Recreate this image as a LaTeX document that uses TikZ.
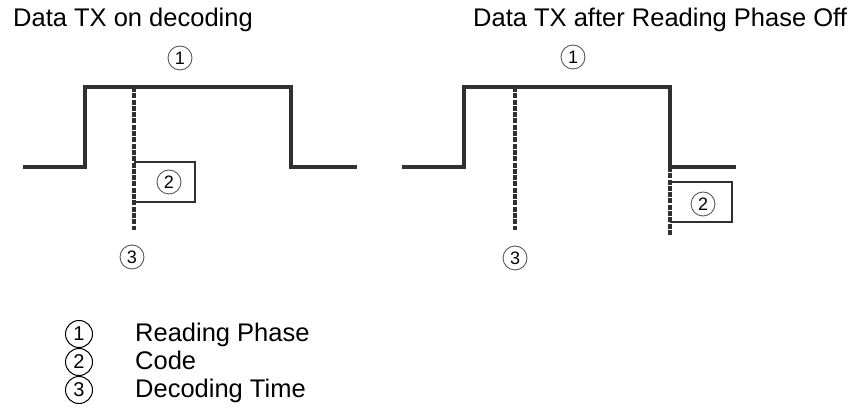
\documentclass[tikz,border=0pt]{standalone}
\usepackage{fontspec}
\setmainfont{Liberation Sans}
\definecolor{sigcol}{HTML}{303030}
\begin{document}
\begin{tikzpicture}[x=1pt,y=-1pt,
  sig/.style={line width=3.3pt, draw=sigcol, line join=miter},
  boxline/.style={line width=2.8pt, draw=sigcol, line join=miter},
  dashline/.style={line width=3.3pt, draw=sigcol, dash pattern=on 5pt off 1.3pt},
  num/.style={circle, draw=black!65, line width=0.9pt, minimum size=24pt, inner sep=0pt, font=\fontsize{18}{18}\selectfont},
  lnum/.style={circle, draw=black, line width=1pt, minimum size=27pt, inner sep=0pt, font=\fontsize{20}{20}\selectfont},
  ttl/.style={anchor=base west, inner sep=0pt, font=\fontsize{25.5}{30}\selectfont},
]
\useasboundingbox (0,0) rectangle (862,411);
% titles
\node[ttl] (t1) at (13,27) {Data TX on decoding};
\node[ttl] (t2) at (473,27) {Data TX after Reading Phase Off};
% left diagram
\coordinate (l0) at (23,167);
\coordinate (l1) at (85,167);
\coordinate (l2) at (85,87);
\coordinate (l3) at (291,87);
\coordinate (l4) at (291,167);
\coordinate (l5) at (357,167);
\draw[sig] (l0) -- (l1) -- (l2) -- (l3) -- (l4) -- (l5);
\coordinate (ld0) at (134,87);
\coordinate (ld1) at (134,230);
\draw[dashline] (ld0) -- (ld1);
\coordinate (lb0) at (134,162);
\coordinate (lb1) at (195,162);
\coordinate (lb2) at (195,202);
\coordinate (lb3) at (134,202);
\draw[boxline] (lb0) -- (lb1) -- (lb2) -- (lb3);
\node[num] (lc1) at (180,58) {1};
\node[num] (lc2) at (169,182) {2};
\node[num] (lc3) at (132,257) {3};
% right diagram
\coordinate (r0) at (402,167);
\coordinate (r1) at (464,167);
\coordinate (r2) at (464,87);
\coordinate (r3) at (670,87);
\coordinate (r4) at (670,167);
\coordinate (r5) at (736,167);
\draw[sig] (r0) -- (r1) -- (r2) -- (r3) -- (r4) -- (r5);
\coordinate (rd0) at (515,87);
\coordinate (rd1) at (515,230);
\draw[dashline] (rd0) -- (rd1);
\coordinate (re0) at (670,167);
\coordinate (re1) at (670,235);
\draw[dashline] (re0) -- (re1);
\coordinate (rb0) at (670,182);
\coordinate (rb1) at (732,182);
\coordinate (rb2) at (732,222);
\coordinate (rb3) at (670,222);
\draw[boxline] (rb0) -- (rb1) -- (rb2) -- (rb3);
\node[num] (rc1) at (573,57) {1};
\node[num] (rc2) at (703,204) {2};
\node[num] (rc3) at (515,258) {3};
% legend
\node[lnum] (k1) at (79,334) {1};
\node[lnum] (k2) at (79,362) {2};
\node[lnum] (k3) at (79,390) {3};
\node[ttl] (k1t) at (135,342) {Reading Phase};
\node[ttl] (k2t) at (135,370) {Code};
\node[ttl] (k3t) at (135,398) {Decoding Time};
\end{tikzpicture}
\end{document}
